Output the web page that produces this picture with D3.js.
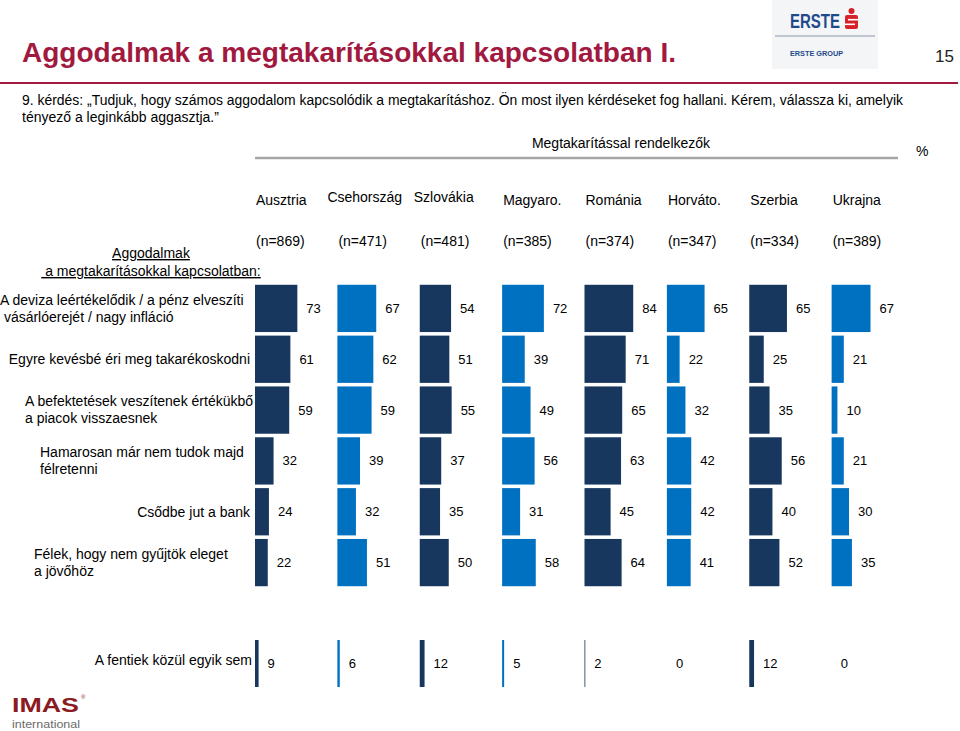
<!DOCTYPE html>
<html>
<head>
<meta charset="utf-8">
<script src="https://cdn.jsdelivr.net/npm/d3@7"></script>
<style>
  body { margin: 0; background: #fff; }
  svg text { font-family: "Liberation Sans", Arial, sans-serif; white-space: pre; }
</style>
</head>
<body>
<div id="app"></div>
<script>
const container = document.querySelector('#app');

// Chart data
const countries = ["Ausztria", "Csehország", "Szlovákia", "Magyaro.", "Románia", "Horváto.", "Szerbia", "Ukrajna"];
const sampleSizes = [869, 471, 481, 385, 374, 347, 334, 389];

const concerns = [
  ["A deviza leértékelődik / a pénz elveszíti", " vásárlóerejét / nagy infláció"],
  ["Egyre kevésbé éri meg takarékoskodni"],
  ["A befektetések veszítenek értékükbő", "a piacok visszaesnek"],
  ["Hamarosan már nem tudok majd", "félretenni"],
  ["Csődbe jut a bank"],
  ["Félek, hogy nem gyűjtök eleget", "a jövőhöz"]
];
const inflation   = [73, 67, 54, 72, 84, 65, 65, 67];
const notWorth    = [61, 62, 51, 39, 71, 22, 25, 21];
const investments = [59, 59, 55, 49, 65, 32, 35, 10];
const cantSave    = [32, 39, 37, 56, 63, 42, 56, 21];
const bankFails   = [24, 32, 35, 31, 45, 42, 40, 30];
const notEnough   = [22, 51, 50, 58, 64, 41, 52, 35];
const concernValues = [inflation, notWorth, investments, cantSave, bankFails, notEnough];

const noneLabel = "A fentiek közül egyik sem";
const noneValues = [9, 6, 12, 5, 2, 0, 12, 0];

const title = "Aggodalmak a megtakarításokkal kapcsolatban I.";
const question = [
  "9. kérdés: „Tudjuk, hogy számos aggodalom kapcsolódik a megtakarításhoz. Ön most ilyen kérdéseket fog hallani. Kérem, válassza ki, amelyik",
  "tényező a leginkább aggasztja.”"
];
const groupTitle = "Megtakarítással rendelkezők";
const rowHeader = ["Aggodalmak", " a megtakarításokkal kapcsolatban:"];

// dimensions / styles
const width = 960;
const height = 731;
const maroon = "#a2193f";
const dark = "#17375e";
const light = "#0070c0";
const colour = i => i % 2 ? light : dark;

// left edge for multi-line labels, null = right aligned
const labelLeft = [0, null, 25, 40, null, 34];
const labelRight = 250;
// small nudges of the country names as placed on the slide
const nameNudgeX = [1, -10, -6, 1, 1, 1, 1, 1];
const nameNudgeY = [0, -3, -3, 0, 0, 0, 0, 0];

// scales
const x = d3.scaleBand()
    .domain(countries)
    .range([255, 914]);

const len = d3.scaleLinear()
    .domain([0, 100])
    .range([0, 58]);

// the last row is drawn much thinner on the slide
const lenNone = d3.scaleLinear()
    .domain([0, 100])
    .range([0, 40]);

const y = d3.scaleBand()
    .domain(d3.range(concerns.length))
    .range([283, 588])
    .paddingInner(0.07)
    .paddingOuter(0.035);

const yNone = d3.scaleBand()
    .domain([noneLabel])
    .range([640, 687]);

const svg = d3.create("svg")
    .attr("width", width)
    .attr("height", height);

// title + rule
svg.append("text")
  .attr("x", 22).attr("y", 62)
  .attr("fill", maroon)
  .attr("font-size", 28)
  .attr("font-weight", "bold")
  .attr("textLength", 654)
  .attr("lengthAdjust", "spacingAndGlyphs")
  .text(title);

svg.append("line")
  .attr("x1", 0).attr("x2", 958)
  .attr("y1", 83).attr("y2", 83)
  .attr("stroke", maroon)
  .attr("stroke-width", 2);

svg.append("text")
  .attr("x", 935).attr("y", 62)
  .attr("font-size", 17)
  .attr("fill", "#222")
  .text("15");

// Erste logo
const logo = svg.append("g");
logo.append("rect")
  .attr("x", 772).attr("y", 0).attr("width", 106).attr("height", 69)
  .attr("fill", "#f4f5f7");
logo.append("text")
  .attr("x", 790).attr("y", 28)
  .attr("font-size", 21).attr("font-weight", "bold")
  .attr("fill", "#1f4a8a")
  .attr("textLength", 50).attr("lengthAdjust", "spacingAndGlyphs")
  .text("ERSTE");
logo.append("circle")
  .attr("cx", 851.5).attr("cy", 11).attr("r", 3)
  .attr("fill", "#d8222a");
logo.append("rect")
  .attr("x", 845).attr("y", 15).attr("width", 13).attr("height", 14).attr("rx", 2)
  .attr("fill", "#d8222a");
logo.append("line")
  .attr("x1", 848).attr("x2", 858).attr("y1", 19.7).attr("y2", 19.7)
  .attr("stroke", "#fff").attr("stroke-width", 1.6);
logo.append("line")
  .attr("x1", 845).attr("x2", 855).attr("y1", 24.3).attr("y2", 24.3)
  .attr("stroke", "#fff").attr("stroke-width", 1.6);
logo.append("line")
  .attr("x1", 775).attr("x2", 875).attr("y1", 36).attr("y2", 36)
  .attr("stroke", "#8e99a8").attr("stroke-width", 1);
logo.append("text")
  .attr("x", 790).attr("y", 56)
  .attr("font-size", 8).attr("font-weight", "bold")
  .attr("fill", "#1f4a8a")
  .attr("textLength", 53).attr("lengthAdjust", "spacingAndGlyphs")
  .text("ERSTE GROUP");

// question
question.forEach((line, i) => {
  const t = svg.append("text")
    .attr("x", 22).attr("y", 105 + i * 17)
    .attr("font-size", 14)
    .text(line);
  if (i === 0) t.attr("textLength", 881).attr("lengthAdjust", "spacingAndGlyphs");
});

// group header
svg.append("text")
  .attr("x", 621).attr("y", 148)
  .attr("text-anchor", "middle")
  .attr("font-size", 14)
  .text(groupTitle);

svg.append("line")
  .attr("x1", 255).attr("x2", 898)
  .attr("y1", 158).attr("y2", 158)
  .attr("stroke", "#a6a6a6")
  .attr("stroke-width", 2.5);

svg.append("text")
  .attr("x", 916).attr("y", 156)
  .attr("font-size", 14)
  .text("%");

// country names and sample sizes
countries.forEach((c, i) => {
  svg.append("text")
    .attr("x", x(c) + nameNudgeX[i]).attr("y", 205 + nameNudgeY[i])
    .attr("font-size", 14)
    .text(c);
  svg.append("text")
    .attr("x", x(c) + 1).attr("y", 246)
    .attr("font-size", 14)
    .text(`(n=${sampleSizes[i]})`);
});

// row header
rowHeader.forEach((line, i) => {
  svg.append("text")
    .attr("x", 151).attr("y", 258 + i * 18)
    .attr("text-anchor", "middle")
    .attr("font-size", 14)
    .style("text-decoration", "underline")
    .text(line);
});

// row labels
concerns.forEach((lines, r) => {
  const mid = y(r) + y.bandwidth() / 2;
  lines.forEach((line, k) => {
    const t = svg.append("text")
      .attr("y", mid + (k - (lines.length - 1) / 2) * 17)
      .attr("dy", "0.35em")
      .attr("font-size", 14)
      .text(line);
    if (labelLeft[r] === null) t.attr("x", labelRight).attr("text-anchor", "end");
    else t.attr("x", labelLeft[r]);
  });
});

// bars + value labels
concernValues.forEach((row, r) => {
  row.forEach((v, c) => {
    svg.append("rect")
      .attr("x", x(countries[c]))
      .attr("y", y(r))
      .attr("width", len(v))
      .attr("height", y.bandwidth())
      .attr("fill", colour(c));
    svg.append("text")
      .attr("x", x(countries[c]) + len(v) + 9)
      .attr("y", y(r) + y.bandwidth() / 2)
      .attr("dy", "0.35em")
      .attr("font-size", 13)
      .text(v);
  });
});

// "none of the above" row
svg.append("text")
  .attr("x", 252)
  .attr("y", yNone(noneLabel) + yNone.bandwidth() / 2 - 3)
  .attr("dy", "0.35em")
  .attr("text-anchor", "end")
  .attr("font-size", 14)
  .text(noneLabel);

noneValues.forEach((v, c) => {
  svg.append("rect")
    .attr("x", x(countries[c]))
    .attr("y", yNone(noneLabel))
    .attr("width", lenNone(v))
    .attr("height", yNone.bandwidth())
    .attr("fill", colour(c));
  svg.append("text")
    .attr("x", x(countries[c]) + lenNone(v) + 9)
    .attr("y", yNone(noneLabel) + yNone.bandwidth() / 2)
    .attr("dy", "0.35em")
    .attr("font-size", 13)
    .text(v);
});

// IMAS logo
svg.append("text")
  .attr("x", 12).attr("y", 712)
  .attr("font-size", 21).attr("font-weight", "bold")
  .attr("fill", "#8b1a22")
  .attr("textLength", 67).attr("lengthAdjust", "spacingAndGlyphs")
  .text("IMAS");
svg.append("text")
  .attr("x", 81).attr("y", 699)
  .attr("font-size", 6)
  .attr("fill", "#8b1a22")
  .text("®");
svg.append("text")
  .attr("x", 12).attr("y", 727.5)
  .attr("font-size", 11.5)
  .attr("fill", "#6b6b6b")
  .attr("textLength", 68).attr("lengthAdjust", "spacingAndGlyphs")
  .text("international");

container.append(svg.node());
</script>
</body>
</html>
